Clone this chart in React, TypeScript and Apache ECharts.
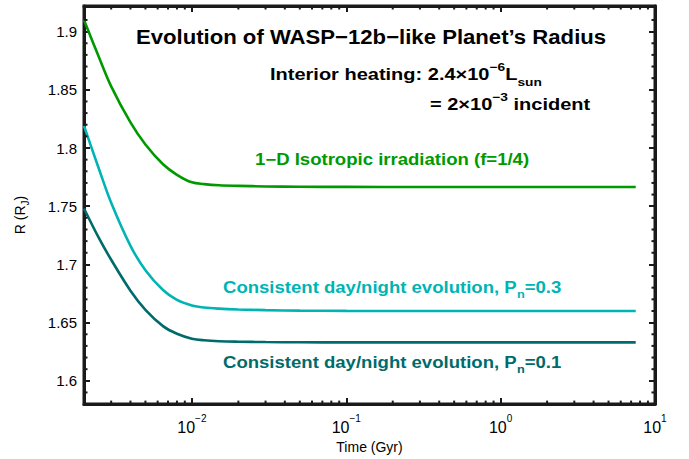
import React, { useEffect, useRef } from "react";
import * as echarts from "echarts";

// Time grid (Gyr) shared by the three radius tracks
const timeGyr = [0.002, 0.0025, 0.003, 0.004, 0.005, 0.0065, 0.008, 0.01, 0.012, 0.015, 0.02, 0.03, 0.05, 0.1, 0.3, 1, 3, 7.5];

// Planet radius (R_J) for each model
const radiusIsotropic = [1.910, 1.878, 1.853, 1.822, 1.803, 1.786, 1.777, 1.7705, 1.769, 1.768, 1.7675, 1.767, 1.7667, 1.7666, 1.7665, 1.7665, 1.7665, 1.7665];
const radiusPn03 = [1.819, 1.782, 1.753, 1.716, 1.695, 1.678, 1.6695, 1.6648, 1.663, 1.662, 1.6613, 1.6607, 1.6603, 1.6601, 1.66, 1.66, 1.66, 1.66];
const radiusPn01 = [1.748, 1.7225, 1.704, 1.6774, 1.661, 1.647, 1.6404, 1.6362, 1.6348, 1.634, 1.6336, 1.6333, 1.6331, 1.633, 1.633, 1.633, 1.633, 1.633];

// Axis ranges
const X_MIN = 0.002;
const X_MAX = 10;
const Y_MIN = 1.58;
const Y_MAX = 1.922;

// Minor tick positions
const xMinorTicks = [
  0.003, 0.004, 0.005, 0.006, 0.007, 0.008, 0.009,
  0.02, 0.03, 0.04, 0.05, 0.06, 0.07, 0.08, 0.09,
  0.2, 0.3, 0.4, 0.5, 0.6, 0.7, 0.8, 0.9,
  2, 3, 4, 5, 6, 7, 8, 9,
];
const yMinorTicks = [
  1.59, 1.61, 1.62, 1.63, 1.64, 1.66, 1.67, 1.68, 1.69, 1.71, 1.72, 1.73, 1.74,
  1.76, 1.77, 1.78, 1.79, 1.81, 1.82, 1.83, 1.84, 1.86, 1.87, 1.88, 1.89, 1.91,
];

const GREEN = "#009a00";
const CYAN = "#00b4b4";
const TEAL = "#006b6b";
const FRAME = "#1a1a1a";
const FONT = "Liberation Sans, Arial, Helvetica, sans-serif";

const pair = (xs: number[], ys: number[]) => xs.map((x, i) => [x, ys[i]]);

const layerStyle: React.CSSProperties = { position: "fixed", left: 0, top: 0, width: 689, height: 459 };

export default function App() {
  const plotRef = useRef<HTMLDivElement>(null);
  const textRef = useRef<HTMLDivElement>(null);

  useEffect(() => {
    if (!plotRef.current || !textRef.current) return;
    const chart = echarts.init(plotRef.current, undefined, { renderer: "svg" });
    const notes = echarts.init(textRef.current, undefined, { renderer: "svg" });

    const decadeLabel = (v: number) => {
      const k = Math.round(Math.log10(v));
      if (Math.abs(Math.log10(v) - k) > 1e-6) return `{b|${v}}`;
      return `{b|10}{e|${k < 0 ? "\u2212" + -k : k}}`;
    };

    const lineSeries = (name: string, ys: number[], color: string) => ({
      type: "line",
      name,
      data: pair(timeGyr, ys),
      smooth: 0.35,
      showSymbol: false,
      lineStyle: { color, width: 2.6 },
      itemStyle: { color },
    });

    const axisLine = { show: true, lineStyle: { color: FRAME, width: 3 } };
    const axisTick = { show: true, inside: true, length: 6, lineStyle: { color: FRAME, width: 2 } };

    chart.setOption({
      animation: false,
      grid: { left: 84, right: 34, top: 6, bottom: 54, show: true, borderColor: FRAME, borderWidth: 3 },
      xAxis: [
        {
          type: "log",
          logBase: 10,
          min: X_MIN,
          max: X_MAX,
          splitLine: { show: false },
          axisLine,
          axisTick,
          name: "Time (Gyr)",
          nameLocation: "middle",
          nameGap: 25,
          nameTextStyle: { fontFamily: FONT, fontSize: 14, color: "#000" },
          axisLabel: {
            formatter: decadeLabel,
            showMinLabel: false,
            margin: 9,
            rich: {
              b: { fontFamily: FONT, fontSize: 16, color: "#000", lineHeight: 22, verticalAlign: "bottom" },
              e: { fontFamily: FONT, fontSize: 10, color: "#000", lineHeight: 14, verticalAlign: "top" },
            },
          },
        },
        {
          type: "log",
          logBase: 10,
          min: X_MIN,
          max: X_MAX,
          position: "top",
          splitLine: { show: false },
          axisLine,
          axisTick,
          axisLabel: { show: false },
        },
      ],
      yAxis: [
        {
          type: "value",
          min: Y_MIN,
          max: Y_MAX,
          splitLine: { show: false },
          axisLine,
          axisTick,
          axisLabel: {
            showMinLabel: false,
            showMaxLabel: false,
            fontFamily: FONT,
            fontSize: 15,
            color: "#000",
            margin: 7,
          },
        },
        {
          type: "value",
          min: Y_MIN,
          max: Y_MAX,
          position: "right",
          splitLine: { show: false },
          axisLine,
          axisTick,
          axisLabel: { show: false },
        },
      ],
      series: [
        lineSeries("1-D Isotropic irradiation (f=1/4)", radiusIsotropic, GREEN),
        lineSeries("Consistent day/night evolution, Pn=0.3", radiusPn03, CYAN),
        lineSeries("Consistent day/night evolution, Pn=0.1", radiusPn01, TEAL),
      ],
    });

    // minor ticks placed through the plot's own axis scales
    const px = (t: number) => chart.convertToPixel({ xAxisIndex: 0 }, t) as number;
    const py = (v: number) => chart.convertToPixel({ yAxisIndex: 0 }, v) as number;
    const left = px(X_MIN);
    const right = px(X_MAX);
    const top = py(Y_MAX);
    const bottom = py(Y_MIN);
    const seg = (x1: number, y1: number, x2: number, y2: number) => ({
      type: "line",
      silent: true,
      shape: { x1, y1, x2, y2 },
      style: { stroke: FRAME, lineWidth: 2 },
    });
    const ticks: any[] = [];
    xMinorTicks.forEach((t) => {
      const x = px(t);
      ticks.push(seg(x, bottom, x, bottom - 3.5), seg(x, top, x, top + 3.5));
    });
    yMinorTicks.forEach((v) => {
      const y = py(v);
      ticks.push(seg(left, y, left + 3.5, y), seg(right, y, right - 3.5, y));
    });

    // bold annotation text, widened a little horizontally
    const note = (x: number, y: number, text: string, color: string, size: number, sx: number) => ({
      type: "text",
      x,
      y,
      scaleX: sx,
      style: {
        text,
        verticalAlign: "middle",
        rich: {
          b: { fontFamily: FONT, fontWeight: "bold", fontSize: size, fill: color, lineHeight: 26, verticalAlign: "middle" },
          p: { fontFamily: FONT, fontWeight: "bold", fontSize: Math.round(size * 0.68), fill: color, lineHeight: 12, verticalAlign: "top" },
          s: { fontFamily: FONT, fontWeight: "bold", fontSize: Math.round(size * 0.68), fill: color, lineHeight: 12, verticalAlign: "bottom" },
        },
      },
    });

    notes.setOption({
      animation: false,
      graphic: [
        ...ticks,
        {
          type: "text",
          x: 371,
          y: 37,
          scaleX: 1.08,
          style: {
            text: "Evolution of WASP\u221212b\u2212like Planet\u2019s Radius",
            fontFamily: FONT,
            fontWeight: "bold",
            fontSize: 20.5,
            fill: "#000",
            align: "center",
            verticalAlign: "middle",
          },
        },
        note(270, 75, "{b|Interior heating: 2.4\u00d710}{p|\u22126}{b|L}{s|sun}", "#000", 16, 1.25),
        note(430, 105, "{b|= 2\u00d710}{p|\u22123}{b| incident}", "#000", 16, 1.25),
        note(255, 159, "{b|1\u2212D Isotropic irradiation (f=1/4)}", GREEN, 16, 1.16),
        note(223, 287, "{b|Consistent day/night evolution, P}{s|n}{b|=0.3}", CYAN, 16, 1.16),
        note(223, 362, "{b|Consistent day/night evolution, P}{s|n}{b|=0.1}", TEAL, 16, 1.16),
        {
          // y-axis title
          type: "text",
          x: 20,
          y: 215,
          rotation: Math.PI / 2,
          style: {
            text: "{n|R (R}{s|J}{n|)}",
            align: "center",
            verticalAlign: "middle",
            rich: {
              n: { fontFamily: FONT, fontSize: 14, fill: "#000", lineHeight: 20, verticalAlign: "middle" },
              s: { fontFamily: FONT, fontSize: 10, fill: "#000", lineHeight: 12, verticalAlign: "bottom" },
            },
          },
        },
      ],
    });

    return () => {
      notes.dispose();
      chart.dispose();
    };
  }, []);

  return (
    <>
      <div ref={plotRef} style={{ ...layerStyle, background: "#fff" }} />
      <div ref={textRef} style={{ ...layerStyle, pointerEvents: "none" }} />
    </>
  );
}
